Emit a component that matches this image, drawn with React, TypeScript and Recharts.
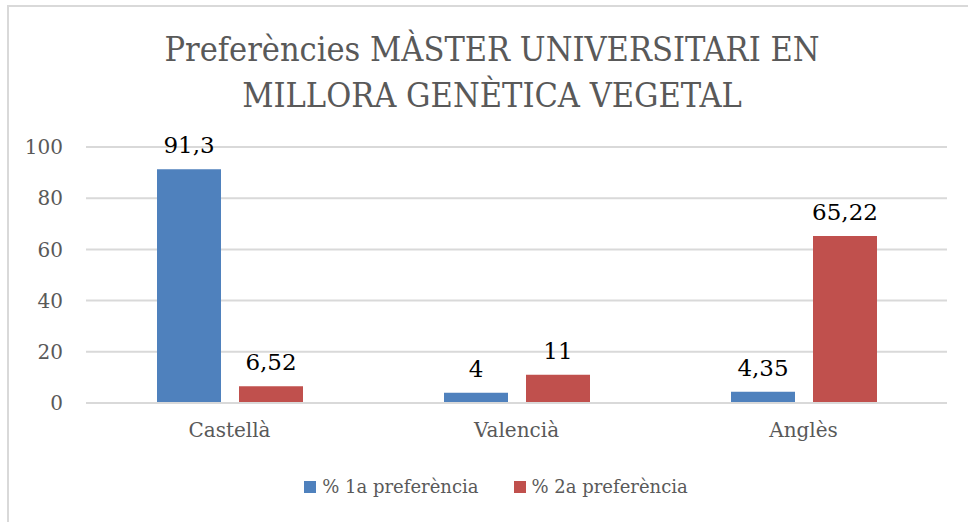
import React from 'react';
import { BarChart, Bar, XAxis, YAxis, CartesianGrid, Legend, LabelList } from 'recharts';

const categories = ['Castellà', 'Valencià', 'Anglès'];
const firstPref = [91.3, 4, 4.35];
const secondPref = [6.52, 11, 65.22];
const yTicks = [0, 20, 40, 60, 80, 100];
const titleLines = ['Preferències MÀSTER UNIVERSITARI EN', 'MILLORA GENÈTICA VEGETAL'];

const SERIES = [
  { key: 'first', name: '% 1a preferència', color: '#4f81bd' },
  { key: 'second', name: '% 2a preferència', color: '#c0504d' },
];

const data = categories.map((c, i) => ({ name: c, first: firstPref[i], second: secondPref[i] }));

const FONT = "'DejaVu Serif', serif";
const GRAY = '#595959';

const fmt = (v: any) => String(v).replace('.', ',');

const LegendContent = () => (
  <div style={{ display: 'flex', justifyContent: 'center', paddingLeft: 24, fontFamily: FONT, fontSize: 18, color: GRAY }}>
    {SERIES.map((s, i) => (
      <div key={s.key} style={{ display: 'flex', alignItems: 'center', marginLeft: i ? 35 : 0 }}>
        <span style={{ width: 12, height: 12, background: s.color, marginRight: 6, display: 'inline-block' }} />
        <span>{s.name}</span>
      </div>
    ))}
  </div>
);

export default function App() {
  return (
    <div style={{ position: 'absolute', left: 0, top: 0, width: 968, height: 522, overflow: 'hidden', background: '#fff' }}>
      <div style={{ position: 'absolute', left: 7, top: 5, width: 990, height: 540, border: '2px solid #d9d9d9', boxSizing: 'border-box' }} />
      <svg width={968} height={130} style={{ position: 'absolute', left: 0, top: 0 }}>
        {titleLines.map((t, i) => (
          <text
            key={i}
            x={492}
            y={61 + i * 46}
            textAnchor="middle"
            fill={GRAY}
            style={{ fontFamily: "'DejaVu Serif Condensed', 'DejaVu Serif', serif", fontStretch: 'condensed', fontSize: 34 }}
          >
            {t}
          </text>
        ))}
      </svg>
      <div style={{ position: 'absolute', left: 0, top: 0 }}>
        <BarChart
          width={968}
          height={522}
          data={data}
          margin={{ top: 147, right: 21, left: 26, bottom: 49 }}
          barSize={64}
          barGap={18}
        >
          <CartesianGrid vertical={false} stroke="#d9d9d9" strokeWidth={2} />
          <XAxis
            dataKey="name"
            height={40}
            tickLine={false}
            tickSize={0}
            tickMargin={20}
            axisLine={{ stroke: '#d9d9d9', strokeWidth: 2 }}
            tick={{ fill: GRAY, fontSize: 20, fontFamily: FONT }}
          />
          <YAxis
            width={60}
            domain={[0, 100]}
            ticks={yTicks}
            tickLine={false}
            axisLine={false}
            tickSize={0}
            tickMargin={23}
            tick={{ fill: GRAY, fontSize: 20, fontFamily: FONT }}
          />
          <Legend verticalAlign="bottom" height={30} wrapperStyle={{ left: 0, width: 968, top: 476 }} content={<LegendContent />} />
          {SERIES.map((s) => (
            <Bar key={s.key} dataKey={s.key} name={s.name} fill={s.color} isAnimationActive={false}>
              <LabelList dataKey={s.key} position="top" offset={16} formatter={fmt} fill="#000" style={{ fontSize: 23, fontFamily: FONT }} />
            </Bar>
          ))}
        </BarChart>
      </div>
    </div>
  );
}
